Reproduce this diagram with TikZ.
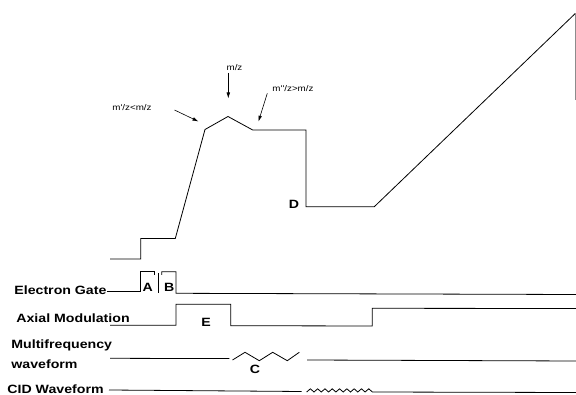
\documentclass[tikz,border=0pt]{standalone}
\usepackage{fontspec}
\setmainfont{Liberation Sans}
\newfontfamily\plotfont[FakeStretch=1.18]{Liberation Sans}
\usetikzlibrary{arrows.meta}

\begin{document}
\begin{tikzpicture}[x=1pt,y=-1pt,line width=0.8pt,
  sig/.style={font=\fontsize{12}{14}\selectfont\plotfont\bfseries,inner sep=0pt,anchor=base west},
  tag/.style={font=\fontsize{12}{14}\selectfont\plotfont\bfseries,inner sep=0pt},
  note/.style={font=\fontsize{8.3}{10}\selectfont\plotfont,inner sep=0pt},
  pin/.style={-{Latex[length=6pt,width=3.6pt]},line width=0.6pt}]
\useasboundingbox (0,0) rectangle (576,395);

% ion trace
\coordinate (shoulder) at (205,129.5);
\coordinate (peak) at (228,116.5);
\coordinate (knee) at (252.7,130);
\draw (110,259) -- (140.7,259) -- (140.7,238.5) -- (175.3,238.5) -- (shoulder) -- (peak)
  -- (knee) -- (306,130) -- (306,206.7) -- (374.3,206.7) -- (575.5,13.3);
\draw[black!45,line width=0.6pt] (575.5,13.3) -- (575.5,100);

\node[note] (lowmz) at (132,108) {m'/z<m/z};
\node[note] (parmz) at (234.5,67.5) {m/z};
\node[note] (highmz) at (293,88.3) {m''/z>m/z};
\coordinate (lowtail) at (174.5,110);
\coordinate (lowtip) at (198.5,121.5);
\coordinate (partail) at (228.3,73);
\coordinate (partip) at (228.3,98.5);
\coordinate (hightail) at (267.3,93.3);
\coordinate (hightip) at (258.4,121.7);
\draw[pin] (lowtail) -- (lowtip);
\draw[pin] (partail) -- (partip);
\draw[pin] (hightail) -- (hightip);
\node[tag] (tagD) at (294,204.5) {D};

% signal rows
\node[sig] (gate) at (14,295) {Electron Gate};
\node[sig] (axial) at (16,323) {Axial Modulation};
\node[sig] (mfreq) at (11,348.5) {Multifrequency};
\node[sig] (mwave) at (11,368.3) {waveform};
\node[sig] (cid) at (7,393.3) {CID Waveform};

\draw (107,291.7) -- (140.7,291.7) -- (140.7,271.7) -- (154.3,271.7) -- (154.3,275);
\draw (158.3,273.5) -- (158.3,293);
\draw (161.7,275) -- (161.7,271.7) -- (176,271.7) -- (176,293.3) -- (576,294.5);
\node[tag] (tagA) at (147.7,287.7) {A};
\node[tag] (tagB) at (169.3,287.7) {B};

\draw (110,325.3) -- (176,325.3) -- (176,304.3) -- (230.7,304.3) -- (230.7,325.7)
  -- (372.3,326) -- (372.3,308.3) -- (576,308.5);
\node[tag] (tagE) at (206,322) {E};

\draw (110,358.3) -- (229.3,358.6);
\draw (232.5,360) -- (245,352.3) -- (259.3,360.7) -- (272.7,352.3) -- (287.3,360.7) -- (299.3,352.3);
\draw (307,360) -- (576,361);
\node[tag] (tagC) at (255,369) {C};

\draw (109,390) -- (301.7,391.5);
\draw (306.7,392) \foreach \i in {1,...,9} { -- ++(3.65,-3.2) -- ++(3.65,3.2)} -- (576,392.5);
\end{tikzpicture}
\end{document}
